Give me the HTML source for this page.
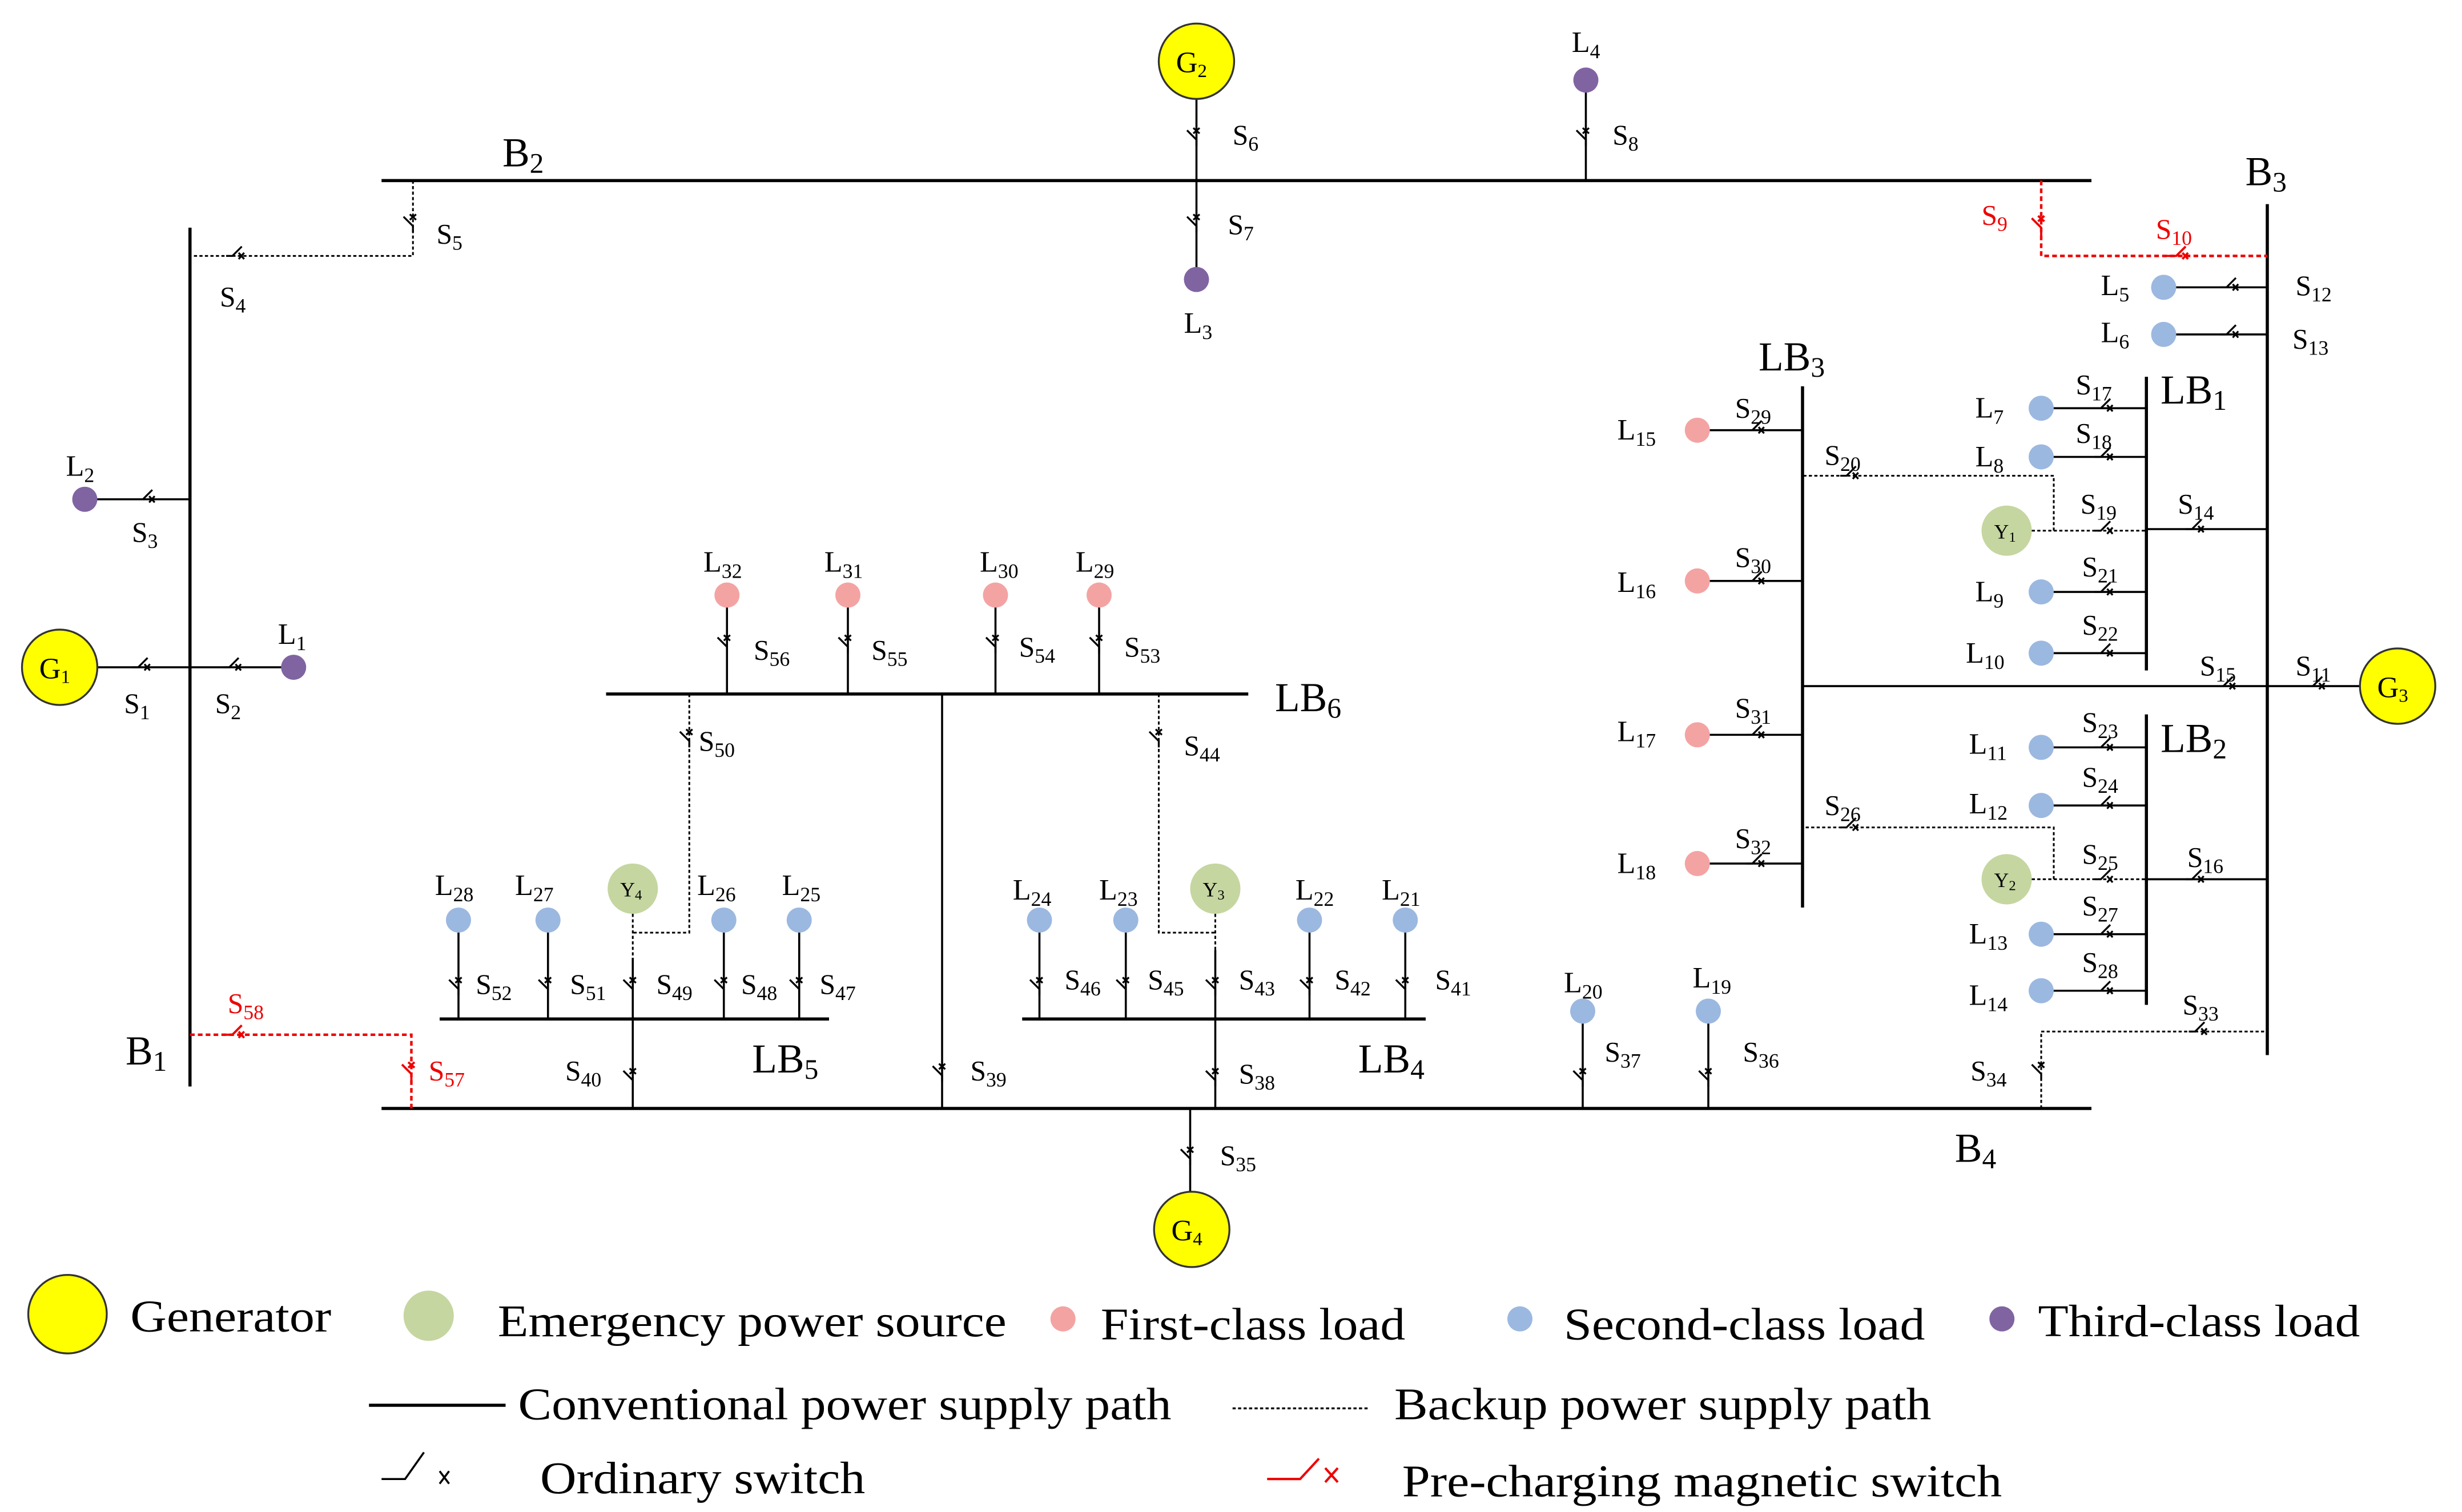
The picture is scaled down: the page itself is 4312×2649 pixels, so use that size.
<!DOCTYPE html>
<html><head><meta charset="utf-8"><style>html,body{margin:0;padding:0;background:#fff}svg{display:block}</style></head>
<body>
<svg width="4312" height="2649" viewBox="0 0 1568 963" preserveAspectRatio="none" xmlns="http://www.w3.org/2000/svg" font-family="'Liberation Serif', serif">
<defs>
<g id="sh" fill="none" stroke="#000" stroke-width="1.2"><path d="M-6,0 L-2,0 L4,-6"/><path d="M2,-2 L5.5,2 M5.5,-2 L2,2"/></g>
<g id="sv" fill="none" stroke="#000" stroke-width="1.2"><path d="M0,6 L0,2 L-6,-4"/><path d="M-2,-2 L2,-5.5 M2,-2 L-2,-5.5"/></g>
<g id="shr" fill="none" stroke="#e00" stroke-width="1.4"><path d="M-8,0 L-2,0 L4,-6"/><path d="M2,-2 L5.5,2 M5.5,-2 L2,2"/></g>
<g id="svr" fill="none" stroke="#e00" stroke-width="1.4"><path d="M0,8 L0,2 L-6,-4"/><path d="M-2,-2 L2,-5.5 M2,-2 L-2,-5.5"/></g>
</defs>
<g stroke="#000" stroke-width="2" fill="none">
<line x1="243" y1="115" x2="1332" y2="115"/>
<line x1="243" y1="706" x2="1332" y2="706"/>
<line x1="121" y1="145" x2="121" y2="692"/>
<line x1="1444" y1="130" x2="1444" y2="672"/>
<line x1="386" y1="442" x2="795" y2="442"/>
<line x1="280" y1="649" x2="528" y2="649"/>
<line x1="651" y1="649" x2="908" y2="649"/>
<line x1="1148" y1="246" x2="1148" y2="578"/>
<line x1="1367" y1="240" x2="1367" y2="427"/>
<line x1="1367" y1="455" x2="1367" y2="640"/>
</g>
<g stroke="#000" stroke-width="1.3" fill="none">
<line x1="762" y1="63" x2="762" y2="178"/>
<line x1="1010" y1="51" x2="1010" y2="115"/>
<line x1="54" y1="318" x2="121" y2="318"/>
<line x1="62" y1="425" x2="187" y2="425"/>
<line x1="758" y1="706" x2="758" y2="759"/>
<line x1="403" y1="610" x2="403" y2="706"/>
<line x1="292" y1="586" x2="292" y2="649"/><line x1="349" y1="586" x2="349" y2="649"/>
<line x1="461" y1="586" x2="461" y2="649"/><line x1="509" y1="586" x2="509" y2="649"/>
<line x1="463" y1="379" x2="463" y2="442"/><line x1="540" y1="379" x2="540" y2="442"/>
<line x1="634" y1="379" x2="634" y2="442"/><line x1="700" y1="379" x2="700" y2="442"/>
<line x1="600" y1="442" x2="600" y2="706"/>
<line x1="662" y1="586" x2="662" y2="649"/><line x1="717" y1="586" x2="717" y2="649"/>
<line x1="834" y1="586" x2="834" y2="649"/><line x1="895" y1="586" x2="895" y2="649"/>
<line x1="774" y1="605" x2="774" y2="706"/>
<line x1="1008" y1="644" x2="1008" y2="706"/><line x1="1088" y1="644" x2="1088" y2="706"/>
<line x1="1378" y1="183" x2="1444" y2="183"/><line x1="1378" y1="213" x2="1444" y2="213"/>
<line x1="1300" y1="260" x2="1367" y2="260"/><line x1="1300" y1="291" x2="1367" y2="291"/>
<line x1="1367" y1="337" x2="1444" y2="337"/>
<line x1="1300" y1="377" x2="1367" y2="377"/><line x1="1300" y1="416" x2="1367" y2="416"/>
<line x1="1081" y1="274" x2="1148" y2="274"/><line x1="1081" y1="370" x2="1148" y2="370"/>
<line x1="1081" y1="468" x2="1148" y2="468"/><line x1="1081" y1="550" x2="1148" y2="550"/>
<line x1="1148" y1="437" x2="1503" y2="437"/>
<line x1="1300" y1="476" x2="1367" y2="476"/><line x1="1300" y1="513" x2="1367" y2="513"/>
<line x1="1367" y1="560" x2="1444" y2="560"/>
<line x1="1300" y1="595" x2="1367" y2="595"/><line x1="1300" y1="631" x2="1367" y2="631"/>
</g>
<g stroke="#000" stroke-width="1.1" fill="none" stroke-dasharray="2,1.5">
<path d="M263,115 V163 H121"/>
<path d="M439,442 V594 H403 M403,582 V610"/>
<path d="M738,442 V594 H774 M774,582 V605"/>
<path d="M1300,706 V657 H1444"/>
<path d="M1294,338 H1367 M1308,338 V303 H1148"/>
<path d="M1294,560 H1367 M1308,560 V527 H1148"/>
</g>
<g stroke="#e00" stroke-width="1.6" fill="none" stroke-dasharray="3,2">
<path d="M1300,115 V163 H1444"/>
<path d="M121,659 H262 V706"/>
</g>
<use href="#sv" x="762" y="87"/><use href="#sv" x="762" y="142"/><use href="#sv" x="1010" y="87"/>
<use href="#sv" x="263" y="142"/><use href="#sh" x="150" y="163"/>
<use href="#sh" x="93" y="318"/><use href="#sh" x="90" y="425"/><use href="#sh" x="148" y="425"/>
<use href="#sv" x="758" y="736"/><use href="#sv" x="403" y="686"/>
<use href="#sv" x="292" y="628"/><use href="#sv" x="349" y="628"/><use href="#sv" x="403" y="628"/><use href="#sv" x="461" y="628"/><use href="#sv" x="509" y="628"/>
<use href="#sv" x="463" y="410"/><use href="#sv" x="540" y="410"/><use href="#sv" x="634" y="410"/><use href="#sv" x="700" y="410"/>
<use href="#sv" x="439" y="470"/><use href="#sv" x="738" y="470"/><use href="#sv" x="600" y="683"/>
<use href="#sv" x="662" y="628"/><use href="#sv" x="717" y="628"/><use href="#sv" x="774" y="628"/><use href="#sv" x="834" y="628"/><use href="#sv" x="895" y="628"/>
<use href="#sv" x="774" y="686"/><use href="#sv" x="1008" y="686"/><use href="#sv" x="1088" y="686"/>
<use href="#sv" x="1300" y="682"/><use href="#sh" x="1400" y="657"/>
<use href="#sh" x="1420" y="183"/><use href="#sh" x="1420" y="213"/>
<use href="#sh" x="1340" y="260"/><use href="#sh" x="1340" y="291"/><use href="#sh" x="1340" y="338"/><use href="#sh" x="1398" y="337"/>
<use href="#sh" x="1340" y="377"/><use href="#sh" x="1340" y="416"/>
<use href="#sh" x="1118" y="274"/><use href="#sh" x="1118" y="370"/><use href="#sh" x="1118" y="468"/><use href="#sh" x="1118" y="550"/>
<use href="#sh" x="1178" y="303"/><use href="#sh" x="1178" y="527"/>
<use href="#sh" x="1418" y="437"/><use href="#sh" x="1475" y="437"/>
<use href="#sh" x="1340" y="476"/><use href="#sh" x="1340" y="513"/><use href="#sh" x="1340" y="560"/><use href="#sh" x="1398" y="560"/>
<use href="#sh" x="1340" y="595"/><use href="#sh" x="1340" y="631"/>
<use href="#svr" x="1300" y="143"/><use href="#shr" x="1388" y="163"/>
<use href="#shr" x="150" y="659"/><use href="#svr" x="262" y="682"/>
<g stroke="#333" stroke-width="1.2" fill="#ffff00">
<circle cx="762" cy="39" r="24"/><circle cx="38" cy="425" r="24"/><circle cx="759" cy="783" r="24"/><circle cx="1527" cy="437" r="24"/>
<ellipse cx="43" cy="837" rx="25" ry="25"/>
</g>
<g fill="#c5d6a0">
<circle cx="403" cy="566" r="16"/><circle cx="774" cy="566" r="16"/><circle cx="1278" cy="338" r="16"/><circle cx="1278" cy="560" r="16"/>
<ellipse cx="273" cy="838" rx="16" ry="16"/>
</g>
<g fill="#8064a2"><circle cx="762" cy="178" r="8"/><circle cx="1010" cy="51" r="8"/><circle cx="54" cy="318" r="8"/><circle cx="187" cy="425" r="8"/><circle cx="1275" cy="840" r="8"/></g>
<g fill="#f4a3a3"><circle cx="463" cy="379" r="8"/><circle cx="540" cy="379" r="8"/><circle cx="634" cy="379" r="8"/><circle cx="700" cy="379" r="8"/>
<circle cx="1081" cy="274" r="8"/><circle cx="1081" cy="370" r="8"/><circle cx="1081" cy="468" r="8"/><circle cx="1081" cy="550" r="8"/><circle cx="677" cy="840" r="8"/></g>
<g fill="#9bb8e0"><circle cx="292" cy="586" r="8"/><circle cx="349" cy="586" r="8"/><circle cx="461" cy="586" r="8"/><circle cx="509" cy="586" r="8"/>
<circle cx="662" cy="586" r="8"/><circle cx="717" cy="586" r="8"/><circle cx="834" cy="586" r="8"/><circle cx="895" cy="586" r="8"/>
<circle cx="1008" cy="644" r="8"/><circle cx="1088" cy="644" r="8"/>
<circle cx="1378" cy="183" r="8"/><circle cx="1378" cy="213" r="8"/><circle cx="1300" cy="260" r="8"/><circle cx="1300" cy="291" r="8"/>
<circle cx="1300" cy="377" r="8"/><circle cx="1300" cy="416" r="8"/><circle cx="1300" cy="476" r="8"/><circle cx="1300" cy="513" r="8"/>
<circle cx="1300" cy="595" r="8"/><circle cx="1300" cy="631" r="8"/><circle cx="968" cy="840" r="8"/></g>
<g font-size="19" fill="#000">
<text x="749" y="46">G<tspan font-size="12" dy="3">2</tspan></text>
<text x="25" y="432">G<tspan font-size="12" dy="3">1</tspan></text>
<text x="746" y="790">G<tspan font-size="12" dy="3">4</tspan></text>
<text x="1514" y="444">G<tspan font-size="12" dy="3">3</tspan></text>
</g>
<g font-size="13" fill="#000">
<text x="395" y="571">Y<tspan font-size="9" dy="2">4</tspan></text>
<text x="766" y="571">Y<tspan font-size="9" dy="2">3</tspan></text>
<text x="1270" y="343">Y<tspan font-size="9" dy="2">1</tspan></text>
<text x="1270" y="565">Y<tspan font-size="9" dy="2">2</tspan></text>
</g>
<g font-size="26" fill="#000">
<text x="320" y="106">B<tspan font-size="18" dy="4">2</tspan></text>
<text x="1430" y="118">B<tspan font-size="18" dy="4">3</tspan></text>
<text x="80" y="678">B<tspan font-size="18" dy="4">1</tspan></text>
<text x="1245" y="740">B<tspan font-size="18" dy="4">4</tspan></text>
<text x="812" y="453">LB<tspan font-size="18" dy="4">6</tspan></text>
<text x="479" y="683">LB<tspan font-size="18" dy="4">5</tspan></text>
<text x="865" y="683">LB<tspan font-size="18" dy="4">4</tspan></text>
<text x="1120" y="236">LB<tspan font-size="18" dy="4">3</tspan></text>
<text x="1376" y="257">LB<tspan font-size="18" dy="4">1</tspan></text>
<text x="1376" y="479">LB<tspan font-size="18" dy="4">2</tspan></text>
</g>
<g font-size="19" fill="#000">
<text x="1001" y="33">L<tspan font-size="13" dy="4">4</tspan></text>
<text x="754" y="212">L<tspan font-size="13" dy="4">3</tspan></text>
<text x="42" y="303">L<tspan font-size="13" dy="4">2</tspan></text>
<text x="177" y="410">L<tspan font-size="13" dy="4">1</tspan></text>
<text x="448" y="364">L<tspan font-size="13" dy="4">32</tspan></text>
<text x="525" y="364">L<tspan font-size="13" dy="4">31</tspan></text>
<text x="624" y="364">L<tspan font-size="13" dy="4">30</tspan></text>
<text x="685" y="364">L<tspan font-size="13" dy="4">29</tspan></text>
<text x="277" y="570">L<tspan font-size="13" dy="4">28</tspan></text>
<text x="328" y="570">L<tspan font-size="13" dy="4">27</tspan></text>
<text x="444" y="570">L<tspan font-size="13" dy="4">26</tspan></text>
<text x="498" y="570">L<tspan font-size="13" dy="4">25</tspan></text>
<text x="645" y="573">L<tspan font-size="13" dy="4">24</tspan></text>
<text x="700" y="573">L<tspan font-size="13" dy="4">23</tspan></text>
<text x="825" y="573">L<tspan font-size="13" dy="4">22</tspan></text>
<text x="880" y="573">L<tspan font-size="13" dy="4">21</tspan></text>
<text x="996" y="632">L<tspan font-size="13" dy="4">20</tspan></text>
<text x="1078" y="629">L<tspan font-size="13" dy="4">19</tspan></text>
<text x="1338" y="188">L<tspan font-size="13" dy="4">5</tspan></text>
<text x="1338" y="218">L<tspan font-size="13" dy="4">6</tspan></text>
<text x="1258" y="266">L<tspan font-size="13" dy="4">7</tspan></text>
<text x="1258" y="297">L<tspan font-size="13" dy="4">8</tspan></text>
<text x="1258" y="383">L<tspan font-size="13" dy="4">9</tspan></text>
<text x="1252" y="422">L<tspan font-size="13" dy="4">10</tspan></text>
<text x="1254" y="480">L<tspan font-size="13" dy="4">11</tspan></text>
<text x="1254" y="518">L<tspan font-size="13" dy="4">12</tspan></text>
<text x="1254" y="601">L<tspan font-size="13" dy="4">13</tspan></text>
<text x="1254" y="640">L<tspan font-size="13" dy="4">14</tspan></text>
<text x="1030" y="280">L<tspan font-size="13" dy="4">15</tspan></text>
<text x="1030" y="377">L<tspan font-size="13" dy="4">16</tspan></text>
<text x="1030" y="472">L<tspan font-size="13" dy="4">17</tspan></text>
<text x="1030" y="556">L<tspan font-size="13" dy="4">18</tspan></text>
</g>
<g font-size="18" fill="#000">
<text x="785" y="92">S<tspan font-size="13" dy="4">6</tspan></text>
<text x="782" y="149">S<tspan font-size="13" dy="4">7</tspan></text>
<text x="1027" y="92">S<tspan font-size="13" dy="4">8</tspan></text>
<text x="278" y="155">S<tspan font-size="13" dy="4">5</tspan></text>
<text x="140" y="195">S<tspan font-size="13" dy="4">4</tspan></text>
<text x="84" y="345">S<tspan font-size="13" dy="4">3</tspan></text>
<text x="79" y="454">S<tspan font-size="13" dy="4">1</tspan></text>
<text x="137" y="454">S<tspan font-size="13" dy="4">2</tspan></text>
<text x="480" y="420">S<tspan font-size="13" dy="4">56</tspan></text>
<text x="555" y="420">S<tspan font-size="13" dy="4">55</tspan></text>
<text x="649" y="418">S<tspan font-size="13" dy="4">54</tspan></text>
<text x="716" y="418">S<tspan font-size="13" dy="4">53</tspan></text>
<text x="445" y="478">S<tspan font-size="13" dy="4">50</tspan></text>
<text x="754" y="481">S<tspan font-size="13" dy="4">44</tspan></text>
<text x="303" y="633">S<tspan font-size="13" dy="4">52</tspan></text>
<text x="363" y="633">S<tspan font-size="13" dy="4">51</tspan></text>
<text x="418" y="633">S<tspan font-size="13" dy="4">49</tspan></text>
<text x="472" y="633">S<tspan font-size="13" dy="4">48</tspan></text>
<text x="522" y="633">S<tspan font-size="13" dy="4">47</tspan></text>
<text x="678" y="630">S<tspan font-size="13" dy="4">46</tspan></text>
<text x="731" y="630">S<tspan font-size="13" dy="4">45</tspan></text>
<text x="789" y="630">S<tspan font-size="13" dy="4">43</tspan></text>
<text x="850" y="630">S<tspan font-size="13" dy="4">42</tspan></text>
<text x="914" y="630">S<tspan font-size="13" dy="4">41</tspan></text>
<text x="360" y="688">S<tspan font-size="13" dy="4">40</tspan></text>
<text x="618" y="688">S<tspan font-size="13" dy="4">39</tspan></text>
<text x="789" y="690">S<tspan font-size="13" dy="4">38</tspan></text>
<text x="1022" y="676">S<tspan font-size="13" dy="4">37</tspan></text>
<text x="1110" y="676">S<tspan font-size="13" dy="4">36</tspan></text>
<text x="777" y="742">S<tspan font-size="13" dy="4">35</tspan></text>
<text x="1255" y="688">S<tspan font-size="13" dy="4">34</tspan></text>
<text x="1390" y="646">S<tspan font-size="13" dy="4">33</tspan></text>
<text x="1462" y="188">S<tspan font-size="13" dy="4">12</tspan></text>
<text x="1460" y="222">S<tspan font-size="13" dy="4">13</tspan></text>
<text x="1322" y="251">S<tspan font-size="13" dy="4">17</tspan></text>
<text x="1322" y="282">S<tspan font-size="13" dy="4">18</tspan></text>
<text x="1325" y="327">S<tspan font-size="13" dy="4">19</tspan></text>
<text x="1387" y="327">S<tspan font-size="13" dy="4">14</tspan></text>
<text x="1326" y="367">S<tspan font-size="13" dy="4">21</tspan></text>
<text x="1326" y="404">S<tspan font-size="13" dy="4">22</tspan></text>
<text x="1326" y="466">S<tspan font-size="13" dy="4">23</tspan></text>
<text x="1326" y="501">S<tspan font-size="13" dy="4">24</tspan></text>
<text x="1326" y="550">S<tspan font-size="13" dy="4">25</tspan></text>
<text x="1393" y="552">S<tspan font-size="13" dy="4">16</tspan></text>
<text x="1326" y="583">S<tspan font-size="13" dy="4">27</tspan></text>
<text x="1326" y="619">S<tspan font-size="13" dy="4">28</tspan></text>
<text x="1105" y="266">S<tspan font-size="13" dy="4">29</tspan></text>
<text x="1105" y="361">S<tspan font-size="13" dy="4">30</tspan></text>
<text x="1105" y="457">S<tspan font-size="13" dy="4">31</tspan></text>
<text x="1105" y="540">S<tspan font-size="13" dy="4">32</tspan></text>
<text x="1162" y="296">S<tspan font-size="13" dy="4">20</tspan></text>
<text x="1162" y="519">S<tspan font-size="13" dy="4">26</tspan></text>
<text x="1401" y="430">S<tspan font-size="13" dy="4">15</tspan></text>
<text x="1462" y="430">S<tspan font-size="13" dy="4">11</tspan></text>
</g>
<g font-size="18" fill="#e00">
<text x="1262" y="143">S<tspan font-size="13" dy="4">9</tspan></text>
<text x="1373" y="152">S<tspan font-size="13" dy="4">10</tspan></text>
<text x="145" y="645">S<tspan font-size="13" dy="4">58</tspan></text>
<text x="273" y="688">S<tspan font-size="13" dy="4">57</tspan></text>
</g>
<g font-size="29" fill="#000" lengthAdjust="spacingAndGlyphs">
<text x="83" y="848" textLength="128" lengthAdjust="spacingAndGlyphs">Generator</text>
<text x="317" y="851" textLength="324" lengthAdjust="spacingAndGlyphs">Emergency power source</text>
<text x="701" y="853" textLength="194" lengthAdjust="spacingAndGlyphs">First-class load</text>
<text x="996" y="853" textLength="230" lengthAdjust="spacingAndGlyphs">Second-class load</text>
<text x="1298" y="851" textLength="205" lengthAdjust="spacingAndGlyphs">Third-class load</text>
<text x="330" y="904" textLength="416" lengthAdjust="spacingAndGlyphs">Conventional power supply path</text>
<text x="888" y="904" textLength="342" lengthAdjust="spacingAndGlyphs">Backup power supply path</text>
<text x="344" y="951" textLength="207" lengthAdjust="spacingAndGlyphs">Ordinary switch</text>
<text x="893" y="953" textLength="382" lengthAdjust="spacingAndGlyphs">Pre-charging magnetic switch</text>
</g>
<line x1="235" y1="895" x2="322" y2="895" stroke="#000" stroke-width="2"/>
<line x1="785" y1="897" x2="872" y2="897" stroke="#000" stroke-width="1.2" stroke-dasharray="2,1.5"/>
<g fill="none" stroke="#000" stroke-width="1.3"><path d="M243,942 H258 L270,925"/><path d="M280,937 L286,945 M286,937 L280,945"/></g>
<g fill="none" stroke="#e00" stroke-width="1.5"><path d="M807,942 H828 L840,929"/><path d="M844,935 L852,944 M852,935 L844,944"/></g>
</svg>
</body></html>
